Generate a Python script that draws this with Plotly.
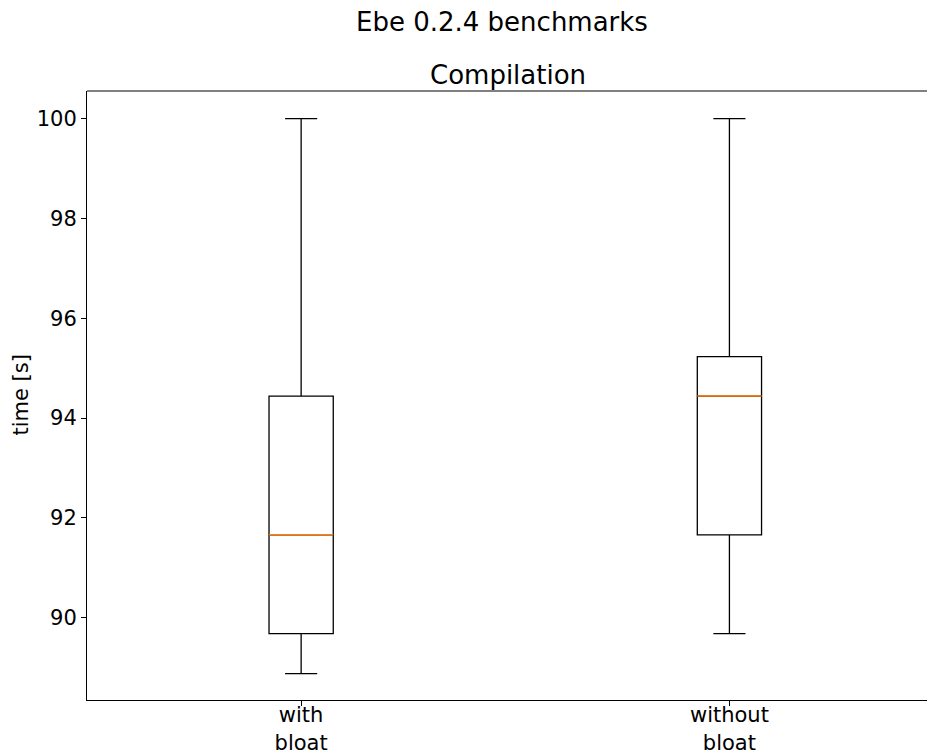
import plotly.graph_objects as go

categories = ["with<br>bloat", "without<br>bloat"]
positions = [1, 2]
lower_whisker = [88.88, 89.68]
q1 = [89.68, 91.66]
median = [91.66, 94.44]
q3 = [94.44, 95.23]
upper_whisker = [100.0, 100.0]
y_ticks = [90, 92, 94, 96, 98, 100]

box_width = 0.15
font = "DejaVu Sans"

# page body has an 8px margin: figure is offset by (8, 8)
W, H = 927, 745
L, T, B = 79, 83, 53
PW = W - L
PH = H - T - B

fig = go.Figure()
for i in range(len(categories)):
    fig.add_trace(go.Box(
        x=[positions[i]],
        q1=[q1[i]], median=[median[i]], q3=[q3[i]],
        lowerfence=[lower_whisker[i]], upperfence=[upper_whisker[i]],
        width=box_width, whiskerwidth=0.5,
        line=dict(color="black", width=1.3),
        fillcolor="white", showlegend=False, hoverinfo="skip",
    ))
    fig.add_trace(go.Scatter(
        x=[positions[i] - box_width / 2, positions[i] + box_width / 2],
        y=[median[i], median[i]],
        mode="lines", line=dict(color="#ff7f0e", width=1.5),
        showlegend=False, hoverinfo="skip",
    ))

fig.update_layout(
    width=W, height=H,
    margin=dict(l=L, r=0, t=T, b=B, pad=0, autoexpand=False),
    plot_bgcolor="white", paper_bgcolor="white",
    font=dict(family=font, size=21, color="black"),
    xaxis=dict(
        range=[0.5, 2.48], tickmode="array", tickvals=positions, ticktext=categories,
        showline=True, linecolor="black", linewidth=1, ticks="outside", ticklen=5,
        tickcolor="black", showgrid=False, zeroline=False, automargin=False,
        ticklabelstandoff=-9,
        tickfont=dict(family=font, size=21),
    ),
    yaxis=dict(
        range=[88.35, 100.555], tickvals=y_ticks,
        showline=True, linecolor="black", linewidth=1, ticks="outside", ticklen=5,
        tickcolor="black", showgrid=False, zeroline=False, automargin=False,
        tickfont=dict(family=font, size=21),
    ),
    shapes=[dict(type="line", xref="paper", yref="paper", x0=0, x1=1, y0=1, y1=1,
                 line=dict(color="black", width=1))],
    annotations=[
        dict(text="Ebe 0.2.4 benchmarks", xref="paper", yref="paper",
             x=(494 - L) / PW, y=1, yshift=(T - 14), showarrow=False,
             font=dict(family=font, size=26), xanchor="center", yanchor="middle"),
        dict(text="Compilation", xref="paper", yref="paper",
             x=(500 - L) / PW, y=1, yshift=(T - 67), showarrow=False,
             font=dict(family=font, size=26), xanchor="center", yanchor="middle"),
        dict(text="time [s]", xref="paper", yref="paper",
             x=(12 - L) / PW, y=0.5, showarrow=False, textangle=-90,
             font=dict(family=font, size=21), xanchor="center", yanchor="middle"),
    ],
)

fig.write_html("out.html")
